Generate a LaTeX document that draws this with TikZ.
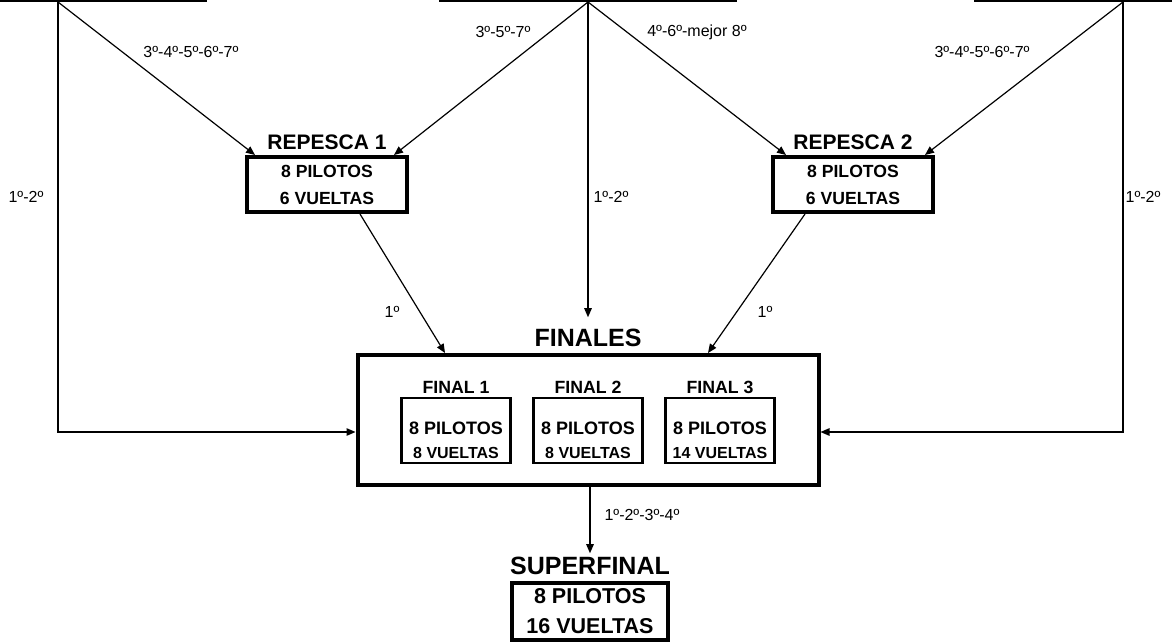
\documentclass[tikz,border=0pt]{standalone}
\usepackage{fontspec}
\setmainfont{Liberation Sans}
\usetikzlibrary{arrows.meta, positioning}

\tikzset{
    heatbox/.style={draw, line width=2pt, minimum width=296pt, minimum height=80pt},
    repbox/.style={draw, line width=4pt, align=center, minimum width=160pt, minimum height=55pt,
        font=\bfseries\fontsize{17.6}{27}\selectfont},
    supbox/.style={draw, line width=4pt, align=center, minimum width=156pt, minimum height=57pt,
        font=\bfseries\fontsize{21.5}{30}\selectfont},
    finbox/.style={draw, line width=2.5pt, minimum width=109pt, minimum height=65pt},
    fintext/.style={align=center, font=\bfseries\fontsize{16}{24}\selectfont},
    title/.style={font=\bfseries\fontsize{21}{25}\selectfont},
    bigtitle/.style={font=\bfseries\fontsize{25}{30}\selectfont},
    fintitle/.style={font=\bfseries\fontsize{17.7}{21}\selectfont},
    lbl/.style={font=\fontsize{16}{19}\selectfont, inner sep=0pt},
    conn/.style={line width=1.2pt, -{Triangle[length=9pt, width=7.5pt]}},
    wire/.style={line width=1.2pt}
}

\begin{document}
\begin{tikzpicture}[x=1pt, y=-1pt]
    \clip (0,0) rectangle (1172,642);

    % heats (cut off at the top)
    \node[heatbox] (heatA) at (58,-39) {};
    \node[heatbox] (heatB) at (588,-39) {};
    \node[heatbox] (heatC) at (1123,-39) {};

    % repescas
    \node[repbox] (rep1) at (327,184.5) {8 PILOTOS\\6 VUELTAS};
    \node[title, above=2pt of rep1] (rep1T) {REPESCA 1};
    \node[repbox] (rep2) at (853,184.5) {8 PILOTOS\\6 VUELTAS};
    \node[title, above=2pt of rep2] (rep2T) {REPESCA 2};

    % finales
    \node[draw, line width=4pt, minimum width=461pt, minimum height=130pt] (finales) at (588,420) {};
    \node[bigtitle, above=3pt of finales] (finalesT) {FINALES};
    \foreach \n/\x/\v in {1/456/8, 2/588/8, 3/720/14} {
        \node[finbox] (f\n) at (\x,430.5) {};
        \node[fintext] (f\n txt) at ([yshift=-9.5pt]f\n) {{\fontsize{18}{24}\selectfont 8 PILOTOS}\\\v{} VUELTAS};
        \node[fintitle, above=0pt of f\n] (f\n title) {FINAL \n};
    }

    % superfinal
    \node[supbox] (sup) at (590,611) {8 PILOTOS\\16 VUELTAS};
    \node[bigtitle, above=2.5pt of sup] (supT) {SUPERFINAL};

    % connectors
    \draw[conn] (heatA.south) -- ([xshift=10pt]rep1.north west);
    \draw[conn] (heatB.south) -- ([xshift=-15pt]rep1.north east);
    \draw[conn] (heatB.south) -- ([xshift=15pt]rep2.north west);
    \draw[conn] (heatC.south) -- ([xshift=-10pt]rep2.north east);
    \draw[conn, shorten >=8pt] (heatB.south) -- (finalesT.north);
    \draw[conn] (heatA.south) |- ([yshift=-12pt]finales.west);
    \draw[conn] (heatC.south) |- ([yshift=-12pt]finales.east);
    \draw[conn] ([xshift=33pt]rep1.south) -- ([xshift=-143pt]finales.north);
    \draw[conn] ([xshift=-48pt]rep2.south) -- ([xshift=120pt]finales.north);
    \draw[conn] (finales.south -| supT.north) -- (supT.north);

    % labels
    \node[lbl] (lA) at (191,52) {3º-4º-5º-6º-7º};
    \node[lbl] (lB) at (503,32) {3º-5º-7º};
    \node[lbl] (lC) at (697,32) {4º-6º-mejor 8º};
    \node[lbl] (lD) at (982,52) {3º-4º-5º-6º-7º};
    \node[lbl] (lE) at (26,197) {1º-2º};
    \node[lbl] (lF) at (611,197) {1º-2º};
    \node[lbl] (lG) at (1143,197) {1º-2º};
    \node[lbl] (lH) at (392,312) {1º};
    \node[lbl] (lI) at (765,312) {1º};
    \node[lbl] (lJ) at (642,515) {1º-2º-3º-4º};
\end{tikzpicture}
\end{document}
